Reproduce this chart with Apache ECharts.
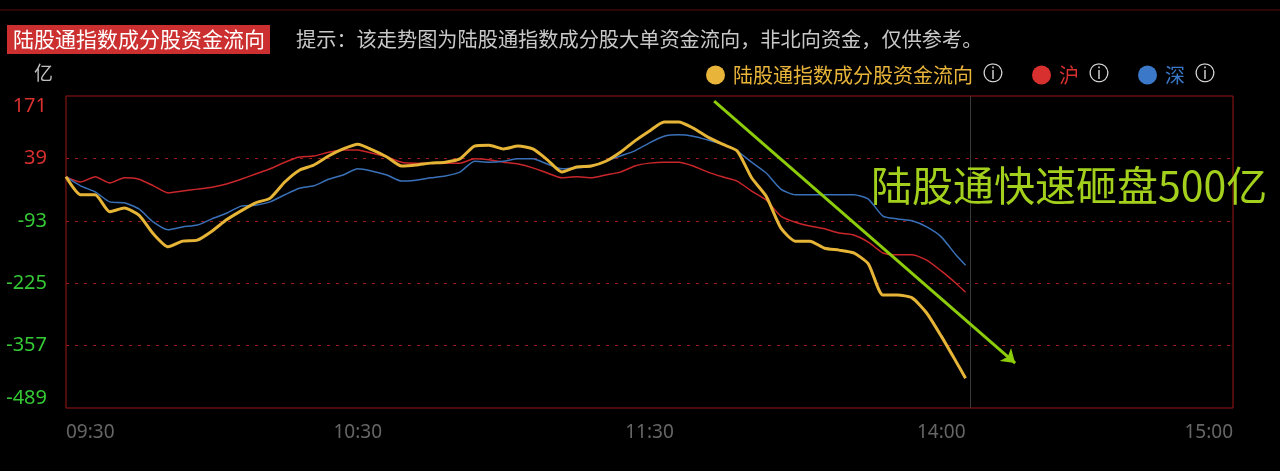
<!DOCTYPE html>
<html>
<head>
<meta charset="utf-8">
<title>陆股通指数成分股资金流向</title>
<script src="https://cdn.jsdelivr.net/npm/echarts@6.0.0/dist/echarts.min.js"></script>
<style>
  html, body { margin: 0; padding: 0; background: #000; }
  #chart { width: 1280px; height: 471px; }
</style>
</head>
<body>
<div id="chart"></div>
<script>
// minutes since 09:30 (trading time, 11:30 and 13:00 are the same point)
const minutes = [
  0, 3, 6, 9, 12, 15, 18, 21, 24, 27, 30, 33, 36, 39, 42, 45, 48, 51, 54, 57,
  60, 63, 66, 69, 72, 75, 78, 81, 84, 87, 90, 93, 96, 99, 102, 105, 108, 111, 114, 117,
  120, 123, 126, 129, 132, 135, 138, 141, 144, 147, 150, 153, 156, 159, 162, 165, 168, 171, 174, 177,
  180, 183, 185,
]
// 亿
const totalFlow = [
  0, -38, -38, -74, -66, -81, -121, -148, -136, -134, -115, -91, -72, -55, -45, -11, 14, 25, 44, 59,
  69, 57, 42, 23, 25, 29, 31, 38, 65, 67, 59, 65, 59, 36, 10, 21, 23, 33, 52, 76,
  97, 116, 116, 103, 84, 69, 55, -2, -41, -108, -136, -136, -151, -155, -161, -184, -250, -250, -256, -288,
  -337, -390, -426,
]
const shFlow = [
  0, -11, 0, -13, -2, -5, -19, -34, -30, -26, -22, -15, -5, 6, 17, 31, 42, 44, 52, 57,
  57, 50, 42, 31, 29, 29, 29, 29, 38, 36, 31, 27, 19, 8, -2, 0, -2, 4, 10, 23,
  29, 31, 31, 23, 10, 0, -9, -30, -49, -83, -96, -104, -110, -119, -123, -138, -161, -165, -165, -176,
  -199, -225, -244,
]
const szFlow = [
  0, -19, -32, -53, -55, -68, -96, -112, -106, -102, -89, -77, -62, -60, -53, -38, -24, -19, -5, 4,
  17, 12, 4, -9, -7, -2, 2, 10, 33, 31, 33, 38, 38, 27, 17, 19, 23, 33, 44, 55,
  72, 86, 89, 86, 78, 69, 55, 31, 8, -26, -38, -38, -38, -38, -38, -47, -83, -89, -93, -106,
  -127, -165, -187,
]
const xTickLabels = ['09:30', '10:30', '11:30', '14:00', '15:00']
const yMin = -489
const yMax = 171
const yStep = 132
const nowMinute = 186

const seriesNames = ['陆股通指数成分股资金流向', '沪', '深']
const colors = ['#e8b53a', '#d8302e', '#3b78c8']

// annotation arrow, in chart coordinates [minute, 亿]
const arrowFrom = [133.3, 160]
const arrowTo = [195.2, -394]

const fontCJK = '"Noto Sans CJK SC", "Noto Sans", sans-serif'

function toPairs(values) {
  return values.map((v, i) => [minutes[i], v])
}

const chartDom = document.getElementById('chart')
const myChart = echarts.init(chartDom, null, { renderer: 'canvas' })

const option = {
  backgroundColor: '#000',
  animation: false,
  textStyle: { fontFamily: fontCJK },
  title: [
    {
      text: '陆股通指数成分股资金流向',
      left: 7,
      top: 25,
      backgroundColor: '#cc2f2f',
      padding: [4, 5, 4, 6],
      textStyle: { color: '#fff', fontSize: 21, fontWeight: 'normal', fontFamily: fontCJK },
    },
    {
      text: '提示：该走势图为陆股通指数成分股大单资金流向，非北向资金，仅供参考。',
      left: 296,
      top: 29,
      padding: 0,
      textStyle: { color: '#c8c8c8', fontSize: 20.2, fontWeight: 'normal', fontFamily: fontCJK },
    },
  ],
  legend: {
    left: 701,
    top: 60,
    icon: 'circle',
    itemWidth: 19,
    itemHeight: 19,
    itemGap: 29,
    selectedMode: false,
    formatter: name => `${name}{i|ⓘ}`,
    textStyle: {
      fontSize: 20,
      fontFamily: fontCJK,
      padding: [0, 0, 0, 3],
      rich: {
        i: { color: '#e0e0e0', fontSize: 20, fontFamily: 'DejaVu Sans', padding: [0, 0, 0, 10] },
      },
    },
    data: seriesNames.map((name, i) => ({ name, textStyle: { color: colors[i] } })),
  },
  graphic: [
    {
      type: 'line',
      shape: { x1: 0, y1: 10, x2: 1280, y2: 10 },
      style: { stroke: '#5e0c0c', lineWidth: 1 },
    },
    {
      type: 'text',
      left: 34,
      top: 63,
      style: { text: '亿', fill: '#bdbdbd', fontSize: 19, fontFamily: fontCJK },
    },
    {
      type: 'text',
      left: 871,
      top: 165,
      z: 10,
      style: { text: '陆股通快速砸盘500亿', fill: '#a2d01c', fontSize: 41, fontFamily: fontCJK },
    },
  ],
  grid: {
    left: 66,
    right: 47,
    top: 96,
    bottom: 63,
    show: true,
    borderColor: '#9a1616',
    borderWidth: 1,
    backgroundColor: 'transparent',
  },
  xAxis: {
    type: 'value',
    min: 0,
    max: 240,
    interval: 60,
    axisLine: { show: false },
    axisTick: { show: false },
    splitLine: { show: false },
    axisLabel: {
      color: '#666',
      fontSize: 19,
      fontFamily: '"Noto Sans", sans-serif',
      margin: 15,
      alignMinLabel: 'left',
      alignMaxLabel: 'right',
      formatter: v => xTickLabels[Math.round(v / 60)],
    },
  },
  yAxis: [
    {
      type: 'value',
      min: yMin,
      max: yMax,
      show: false,
    },
    {
      // label / grid axis, shifted so ticks fall on yMin + k * yStep
      type: 'value',
      min: 0,
      max: yMax - yMin,
      interval: yStep,
      position: 'left',
      axisLine: { show: false },
      axisTick: { show: false },
      splitLine: {
        show: true,
        showMinLine: false,
        showMaxLine: false,
        lineStyle: { color: '#a01c1c', type: [3, 6], width: 1 },
      },
      axisLabel: {
        fontSize: 20,
        fontFamily: '"Noto Sans", sans-serif',
        margin: 19,
        verticalAlignMinLabel: 'bottom',
        verticalAlignMaxLabel: 'top',
        formatter: (v) => {
          const real = Math.round(Number(v) + yMin)
          return real >= 0 ? `{up|${real}}` : `{down|${real}}`
        },
        rich: {
          up: { color: '#d8302e', fontSize: 20, fontFamily: '"Noto Sans", sans-serif' },
          down: { color: '#35c935', fontSize: 20, fontFamily: '"Noto Sans", sans-serif' },
        },
      },
    },
  ],
  series: [
    {
      name: seriesNames[1],
      type: 'line',
      yAxisIndex: 0,
      showSymbol: false,
      smooth: 0.2,
      color: colors[1],
      lineStyle: { width: 1.5, color: '#c8262a' },
      data: toPairs(shFlow),
      z: 3,
      markLine: {
        silent: true,
        symbol: ['none', 'none'],
        label: { show: false },
        lineStyle: { color: '#3a3a3a', type: 'solid', width: 1 },
        data: [{ xAxis: nowMinute }],
      },
    },
    {
      name: seriesNames[2],
      type: 'line',
      yAxisIndex: 0,
      showSymbol: false,
      smooth: 0.2,
      color: colors[2],
      lineStyle: { width: 1.5, color: '#3a70b8' },
      data: toPairs(szFlow),
      z: 4,
    },
    {
      name: seriesNames[0],
      type: 'line',
      yAxisIndex: 0,
      showSymbol: false,
      smooth: 0.2,
      color: colors[0],
      lineStyle: { width: 3, color: '#e6b437' },
      data: toPairs(totalFlow),
      z: 5,
      markLine: {
        silent: true,
        symbol: ['none', 'arrow'],
        symbolSize: 13,
        label: { show: false },
        lineStyle: { color: '#8ccc0a', type: 'solid', width: 3 },
        data: [[{ coord: arrowFrom }, { coord: arrowTo }]],
      },
    },
  ],
}

myChart.setOption(option)
</script>
</body>
</html>
